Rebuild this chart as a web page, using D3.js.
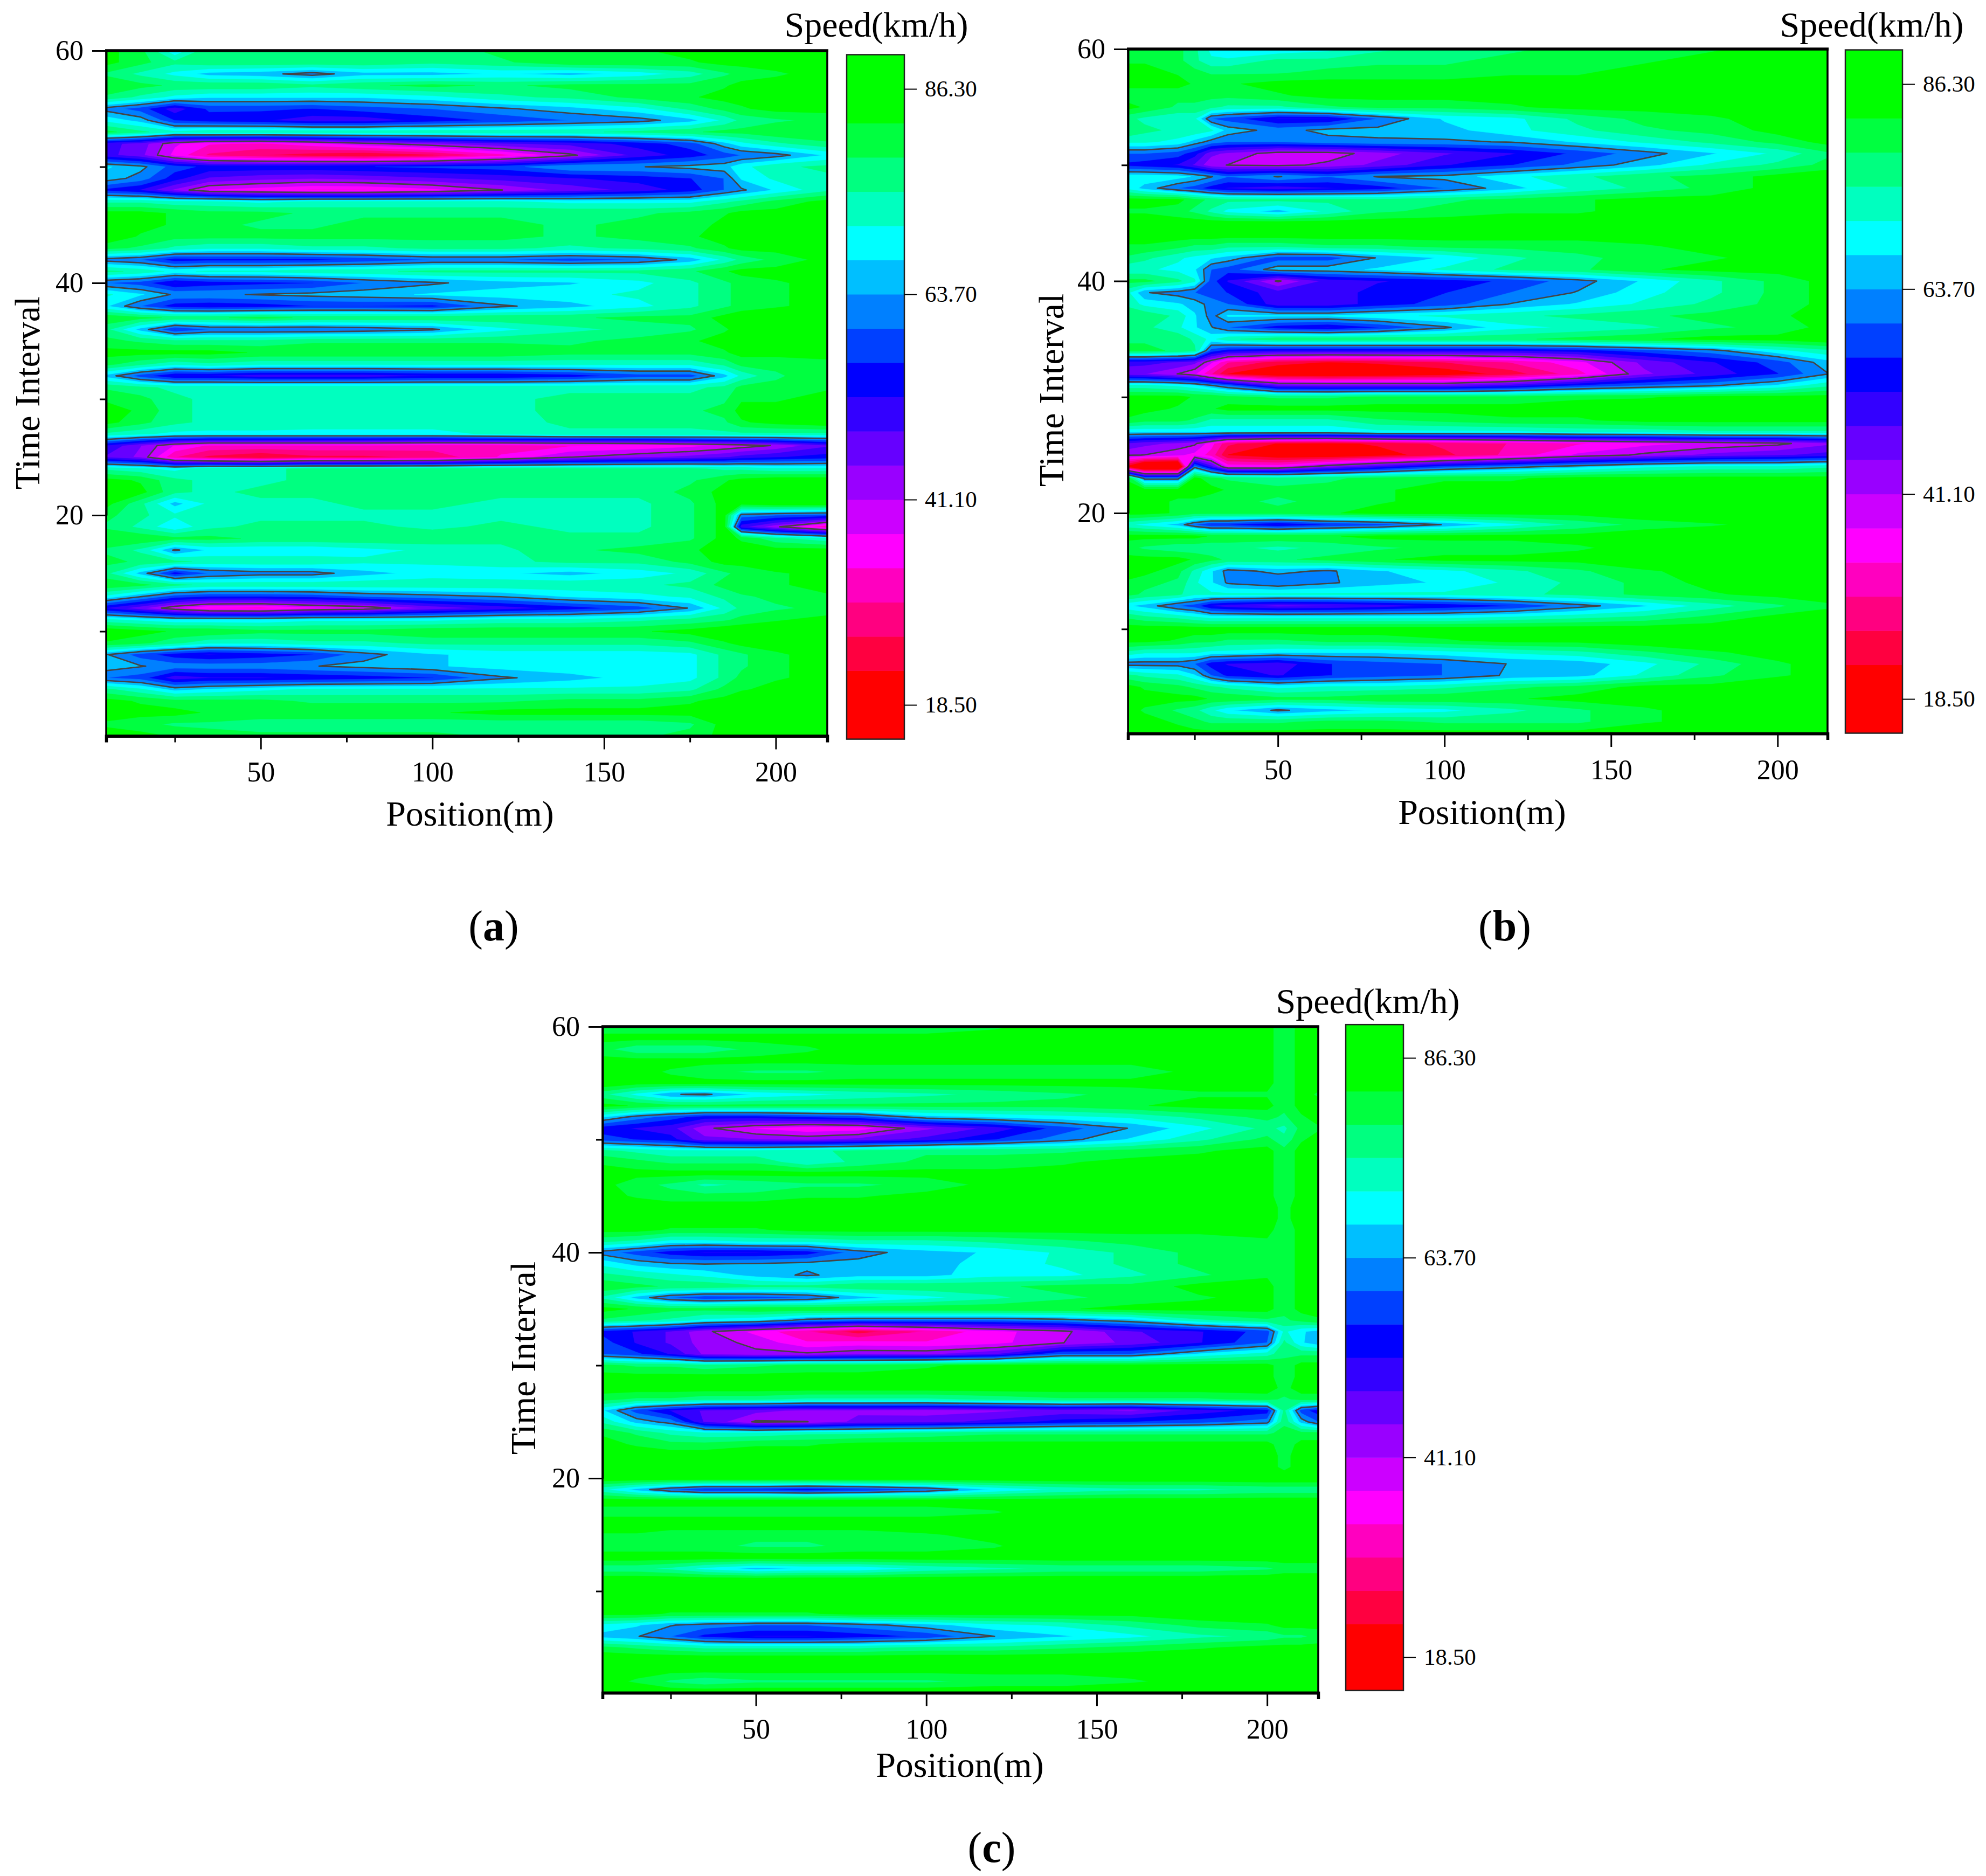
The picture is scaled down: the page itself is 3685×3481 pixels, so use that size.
<!DOCTYPE html>
<html><head><meta charset="utf-8">
<script src="https://cdn.jsdelivr.net/npm/d3@7/dist/d3.min.js"></script>
<style>html,body{margin:0;padding:0;background:#fff}svg{display:block}text{font-family:"Liberation Serif",serif;fill:#000}</style>
</head><body><svg id="c" width="3685" height="3481" xmlns="http://www.w3.org/2000/svg"></svg>
<script>
// Time intervals of each grid row, top row first
const timeRows = [60,59,58,57,56,55,54,53,52,51,50,49,48,47,46,45,44,43,42,41,40,39,38,37,36,35,34,33,32,31,30,29,28,27,26,25,24,23,22,21,20,19,18,17,16,15,14,13,12,11,10,9,8,7,6,5,4,3,2,1];
const positionsA = [5,15,25,35,50,65,80,100,120,140,160,175,185,190,200,215];
const positionsB = [5,10,20,25,30,35,50,65,80,100,120,140,160,180,200,215];
const positionsC = [5,15,25,35,50,65,80,100,120,140,160,180,200,205,210,215];
const speedA = [
[84,80,68,78,78,76,76,76,80,82,82,84,85,85,85,85],
[84,80,76,78,78,78,78,76,78,82,82,82,84,84,84,86],
[78,74,70,66,65,62,66,66,68,66,69,73,78,80,82,84],
[82,80,78,78,78,76,78,80,78,80,80,80,82,84,84,86],
[78,74,70,68,68,68,68,70,74,76,80,82,84,84,86,86],
[62,58,50,57,57,56,58,60,63,66,70,76,80,82,84,84],
[70,66,56,54,53,50,50,54,57,60,62,66,72,76,78,80],
[80,76,72,74,74,74,74,74,74,74,76,78,80,80,82,82],
[50,47,38,34,33,36,40,44,48,50,54,58,66,70,74,78],
[50,46,36,29,26,24,22,25,32,40,50,54,58,60,62,68],
[68,65,58,55,55,55,56,57,58,63.5,63.5,65,66,70,74,76],
[66,62,54,48,46,45,46,48,50,52,54,56,60,68,72,74],
[55,52,44,37,35,33,33,36,41,46,50,54,60,63,68,74],
[74,74,72,72,70,72,72,72,72,70,70,70,74,76,80,84],
[84,84,82,80,80,78,78,78,78,78,78,80,82,84,84,86],
[86,84,82,80,78,78,80,80,80,78,80,80,84,84,86,86],
[86,82,80,80,80,80,80,80,80,78,80,82,84,84,84,86],
[80,78,74,72,72,74,74,76,76,74,76,78,82,84,84,86],
[62,60,54,55,55,55,57,60,60,58,60,65,72,76,80,84],
[76,74,70,72,72,74,74,76,76,76,76,78,82,84,84,86],
[60,58,52,54,55,56,60,63,66,67,70,74,78,80,82,84],
[72,68,63,63,64,65,66,68,69,70,72,74,78,80,82,84],
[68,60,54,53,54,56,56,55,63,66,70,74,78,80,82,84],
[82,80,78,78,80,78,78,78,78,78,80,80,84,86,86,86],
[76,66,56,60,60,60,61,63,70,74,76,78,82,84,84,86],
[80,78,76,76,76,78,78,78,78,78,80,82,84,86,86,86],
[84,84,84,84,82,82,82,82,82,80,80,80,82,84,84,86],
[80,76,72,74,72,72,72,72,72,72,72,72,76,80,80,80],
[66,58,52,52,50,50,50,52,52,54,58,58,66,72,78,82],
[78,76,74,74,74,74,74,74,74,74,74,74,76,80,80,82],
[82,80,76,74,74,74,74,74,74,76,76,76,78,82,82,84],
[84,82,76,74,74,74,74,74,74,76,76,78,80,84,84,86],
[84,80,76,74,74,73,73,73,73,76,76,76,78,82,84,86],
[74,72,70,70,70,70,70,70,72,74,74,74,74,74,74,74],
[52,45,37,33,33,33,33,32,32,33,34,36,38,39,41.5,48],
[48,44,30,25,22,25,25,27,34,41,44,46,48,50,52,54],
[74,72,70,74,74,76,76,76,76,76,76,76,74,74,72,72],
[84,82,76,74,74,76,76,76,76,76,78,78,82,84,86,86],
[86,84,76,74,76,76,78,78,76,76,76,80,84,84,86,86],
[84,76,66,72,74,74,76,76,74,74,74,78,84,84,86,86],
[80,76,72,74,74,74,74,74,74,74,74,78,84,62,60,58],
[78,74,68,74,76,76,76,74,76,74,74,78,84,50,42,30],
[82,82,80,80,78,78,78,78,76,76,76,78,84,82,76,72],
[78,74,63,68,68,68,70,72,74,78,80,82,84,84,84,84],
[80,78,76,74,74,74,72,72,74,76,76,80,84,84,86,86],
[76,66,54,60,62,62,66,69,68,66,69,72,78,80,82,84],
[82,80,76,74,74,74,74,74,74,74,74,76,80,82,82,84],
[70,64,58,56,56,57,60,62,64,68,70,72,76,78,80,82],
[52,46,38,33,32,36,38,46,50,54,58,64,72,76,78,80],
[72,70,68,68,68,70,70,70,72,72,74,76,78,80,82,84],
[86,84,82,82,80,80,80,82,82,82,82,84,86,86,86,86],
[82,80,76,72,72,74,74,76,76,76,76,78,82,84,84,86],
[64,58,54,52,54,56,62,67,69,69,69,70,76,78,82,84],
[66,64,62,62,62,63.5,65,67,69,70,70,70,76,78,82,84],
[60,58,50,52,52,53,54,56,63,66,69,70,76,80,82,84],
[76,72,66,68,70,72,72,72,72,72,72,74,80,82,84,84],
[84,82,80,80,80,78,78,78,78,80,80,82,84,86,86,86],
[84,84,84,82,82,82,82,82,84,84,84,84,86,86,86,86],
[82,80,78,78,76,76,76,76,76,76,76,78,84,86,86,86],
[84,84,82,80,80,80,80,80,78,78,78,80,84,86,86,86]
];
const speedB = [
[80,80,80,76,70,68,68,70,74,76,78,80,82,82,84,86],
[82,82,80,76,72,72,76,76,78,78,80,82,82,84,84,86],
[84,84,82,80,78,78,78,80,80,80,82,82,84,84,86,86],
[84,84,84,82,82,82,84,84,84,84,84,84,84,84,84,86],
[80,80,80,80,80,80,82,84,84,84,84,84,84,84,86,86],
[84,82,78,78,76,74,74,78,80,80,82,84,84,84,84,86],
[76,74,72,72,60,58,52,52,60,68,70,76,80,82,84,86],
[78,76,74,74,72,66,62,65,65,66,70,74,78,80,84,86],
[72,72,70,66,62,60,60,62,63,63,64,68,72,76,80,84],
[60,60,58,54,46,44,39,39,43,48,52,57,62,67,72,78],
[55,54,52,48,42,41,40,42,46,52,56,61,66,72,76,80],
[70,70,69,67,64,60,64,60,64,65,70,74,78,80,84,86],
[70,66,60,58,54,52,50,52,54,60,66,72,76,80,84,86],
[84,84,84,80,78,76,76,76,76,78,80,82,84,84,84,86],
[82,82,80,78,74,70,66,72,78,80,82,82,84,84,84,86],
[85,85,85,85,85,85,85,85,85,85,85,85,85,85,85,85],
[85,85,85,85,85,85,85,85,85,85,85,85,85,85,85,85],
[82,82,80,78,78,76,76,78,78,80,80,80,82,84,86,86],
[78,76,72,70,68,66,58,58,64,68,74,78,80,82,84,86],
[72,72,70,68,60,58,66,66,68,72,76,78,82,84,84,86],
[80,80,76,72,58,52,40.5,50,52,54,57,62,68,74,80,84],
[72,64,62,60,58,56,50,50,54,56,60,64,70,74,80,84],
[74,70,68,66,62,60,50,50,54,58,64,68,72,76,80,84],
[78,78,74,68,62,68,68,68,70,72,74,76,78,80,82,84],
[78,76,72,68,64,60,54,52,56,63,70,72,74,78,80,84],
[78,78,78,74,70,74,78,78,78,78,78,80,82,84,84,86],
[80,80,78,76,58,54,52,52,52,52,52,54,58,62,70,74],
[50,50,48,46,38,30,24,22,23,26,30,36,46,52,58,66],
[46,45,41,38,30,22,17,16,17,19,24,32,44,50,56,63.5],
[72,72,70,68,64,60,47,46,46,46,50,56,60,63,68,74],
[84,84,84,82,82,80,78,78,80,80,80,82,82,84,84,84],
[84,84,82,82,82,84,84,84,84,84,84,84,86,86,86,86],
[82,80,80,78,74,74,74,74,78,80,82,82,84,84,84,84],
[68,68,68,68,68,68,68,68,70,70,70,72,72,74,74,74],
[48,46,44,42,35,27,22,21,23,27,30,33,36,38,40,44],
[41.5,41,38,36,32,22,18,17,20,25,31,38,42,46,48,50],
[20,8,8,62,50,36,36,44,50,58,62,66,70,72,72,74],
[82,62,62,84,80,78,76,78,80,82,82,84,84,84,84,84],
[84,84,84,84,84,82,80,80,82,84,84,84,86,86,86,86],
[84,84,82,82,80,80,78,80,82,84,84,84,86,86,86,86],
[84,84,82,80,80,80,80,82,84,84,84,84,86,86,86,86],
[72,70,66,60,56,56,52,56,58,64,70,76,80,82,84,84],
[84,84,84,84,82,82,82,82,84,84,84,84,86,86,86,86],
[80,78,76,76,76,76,74,76,78,80,80,82,84,86,86,86],
[84,84,84,82,80,78,78,80,82,84,84,84,86,86,86,86],
[84,84,80,74,68,62,65,63,67,70,74,78,82,84,86,86],
[82,80,78,72,68,63,60,63,66,68,72,76,80,84,86,86],
[80,78,76,72,72,72,72,72,72,72,74,76,80,82,84,84],
[68,66,60,58,52,50,47,48,50,53,56,62,67,73,78,82],
[78,76,74,72,70,70,70,70,70,70,72,74,76,80,84,84],
[85,85,85,85,85,85,85,85,85,85,85,85,85,85,85,85],
[84,84,82,80,80,78,78,80,80,82,84,84,86,86,86,86],
[74,72,72,72,70,70,68,68,68,70,72,74,78,82,84,84],
[62,62,62,60,54,52,50,56,58,60,64,65,70,76,82,84],
[76,74,72,68,60,55,52,56,58,60,64.5,66,72,78,82,84],
[84,82,80,78,76,74,70,72,72,74,78,80,84,84,86,86],
[84,84,84,84,82,82,80,80,82,82,82,84,84,86,86,86],
[84,82,78,76,72,68,63,66,68,70,74,78,82,84,84,86],
[84,84,82,80,78,78,78,80,80,78,78,78,82,84,84,86],
[84,84,84,84,84,84,84,84,84,84,84,84,86,86,86,86]
];
const speedC = [
[80,80,80,80,80,80,80,80,82,84,84,84,84,80,84,84],
[84,84,84,84,84,84,84,84,84,84,84,84,84,80,84,84],
[80,76,76,76,80,82,84,84,84,84,84,84,84,80,84,84],
[84,84,84,84,84,84,84,84,84,84,84,84,84,80,84,84],
[84,84,82,80,78,78,80,80,80,80,80,84,84,80,84,84],
[86,84,84,84,84,84,84,84,84,84,84,84,84,80,84,84],
[76,70,64,63,68,70,72,74,76,78,80,82,82,80,84,82],
[84,82,80,80,80,80,80,80,80,80,82,84,84,80,84,84],
[68,62,58,54,54,56,58,66,68,70,72,76,80,78,82,84],
[54,52,50,42,37,34,35,44,50,58,64,70,76,74,80,82],
[58,56,54,46,45,44,46,50,56,62,68,74,80,76,82,84],
[76,74,72,72,72,74,76,78,78,78,80,82,84,80,84,84],
[82,80,78,78,78,72,76,80,80,82,84,84,84,80,84,84],
[84,84,84,84,84,84,84,84,84,84,84,84,84,80,84,84],
[84,80,78,74,76,78,78,80,84,84,84,84,84,80,84,84],
[84,82,80,80,80,82,82,84,84,84,84,84,84,80,84,84],
[85,85,85,85,85,85,85,85,85,85,85,85,85,81,85,85],
[85,85,85,85,85,85,85,85,85,85,85,85,85,81,85,85],
[84,84,82,82,82,84,84,84,84,84,84,84,84,80,84,84],
[76,74,70,70,72,72,74,74,76,78,80,80,82,80,84,84],
[62,58,54,52,52,54,62,66,68,72,76,80,82,80,84,84],
[70,66,64,63.5,64,65,65,66,69,72,76,80,82,80,84,84],
[76,74,72,70,66,63,66,66,70,70,74,78,82,80,84,84],
[82,80,78,78,76,76,78,78,78,80,80,84,84,80,84,84],
[74,66,60,57,58,60,66,70,74,78,80,82,84,80,84,84],
[84,82,80,80,82,82,82,82,82,82,84,84,84,80,84,84],
[78,76,74,70,68,62,60,60,60,62,66,74,78,78,80,82],
[55,52,48,42,36,30,24,30,36,40,48,52,58,72,68,66],
[58,52,48,43,40,34,35,34,36,41,46,52,60,76,68,65],
[60,57,52,44,42,42,44,44,48,60,60,68,73,78,78,78],
[80,78,78,76,78,80,80,82,84,84,84,84,84,80,84,84],
[84,84,84,84,84,84,84,84,84,84,84,84,84,80,84,84],
[85,85,85,85,85,85,85,85,85,85,85,85,85,81,85,85],
[80,78,78,76,76,74,74,74,76,78,78,78,80,78,80,80],
[68,58,52,48,46,44,44,43,44,46,44,50,54,76,58,54],
[74,66,62,48,40.5,41,46,47,50,54,56,58,62,78,66,60],
[82,78,74,72,72,74,74,76,78,78,78,78,78,80,80,80],
[84,82,80,80,82,82,84,84,84,84,84,84,84,80,84,84],
[85,85,85,85,85,85,85,85,85,85,85,85,85,81,85,85],
[85,85,85,85,85,85,85,85,85,85,85,85,85,81,85,85],
[86,86,86,86,86,86,86,86,86,86,86,86,86,86,86,86],
[72,66,60,56,56,54,56,60,68,72,74,74,76,76,76,76],
[85,85,85,85,85,85,85,85,85,85,85,85,85,85,85,85],
[80,80,80,80,80,80,80,80,82,86,86,86,86,86,86,86],
[86,86,86,86,86,86,86,86,86,86,86,86,86,86,86,86],
[82,82,80,80,80,80,80,82,84,86,86,86,86,86,86,86],
[80,80,80,80,78,78,80,80,82,86,86,86,86,86,86,86],
[85,85,85,85,85,85,85,85,85,85,85,85,85,85,85,85],
[76,76,74,70,66,68,68,72,74,76,76,76,78,80,80,80],
[86,86,86,86,86,86,86,86,86,86,86,86,86,86,86,86],
[86,86,86,86,86,86,86,86,86,86,86,86,86,86,86,86],
[86,86,86,86,86,86,86,86,86,86,86,86,86,86,86,86],
[84,84,82,82,82,82,84,84,84,84,84,86,86,86,86,86],
[70,68,64,62,60,60,62,66,70,72,76,80,82,84,84,84],
[66,64,60,55,52,52,54,57,63.7,67,70,74,76,78,78,80],
[80,78,76,74,74,74,74,76,76,78,80,82,84,84,84,84],
[86,86,86,86,86,86,86,86,86,86,86,86,86,86,86,86],
[84,84,84,84,84,84,84,84,84,84,84,84,84,84,84,84],
[84,82,78,76,78,78,78,78,80,80,82,84,86,86,86,86],
[86,86,86,86,86,86,86,86,86,86,86,86,86,86,86,86]
];
const levels = [22.27,26.03,29.8,33.57,37.33,41.1,44.87,48.63,52.4,56.17,59.93,63.7,67.47,71.23,75,78.77,82.53];
const bandColors = ["#ff0000","#ff0040","#ff0080","#ff00bf","#ff00ff","#cc00ff","#9900ff","#6600ff","#3300ff","#0000ff","#0040ff","#0080ff","#00bfff","#00ffff","#00ffbf","#00ff80","#00ff40","#00ff00"];
const lineLevels = [63.7,41.1];
const speedRange = [14.73,90.07];
const barTicks = [18.5,41.1,63.7,86.3];
const xMajor = [50,100,150,200];
const xMinor = [25,75,125,175];
const yMajor = [20,40,60];
const yMinor = [10,30,50];
const xLabel = "Position(m)", yLabel = "Time Interval", barLabel = "Speed(km/h)";

const panels = [
 {id:"a",pos:positionsA,speed:speedA,x0:197,x1:1535,xt:[484,802,1120,1437],y60:94,y20:956,bar:[1571,1678],b86:165,b18:1308,
  barT:[1626,45],xT:[872,1509],yT:[50,729],cap:[916,1718]},
 {id:"b",pos:positionsB,speed:speedB,x0:2093,x1:3391,xt:[2373,2681,2989,3297],y60:91,y20:952,bar:[3424,3530],b86:156,b18:1297,
  barT:[3473,45],xT:[2750,1506],yT:[1950,724],cap:[2792,1718]},
 {id:"c",pos:positionsC,speed:speedC,x0:1118,x1:2446,xt:[1403,1719,2033,2348],y60:1905,y20:2743,bar:[2497,2604],b86:1963,b18:3075,
  barT:[2538,1857],xT:[1781,3274],yT:[970,2520],cap:[1840,3428]}
];
const svg = d3.select("#c");
const defs = svg.append("defs");

panels.forEach(p=>{
  const n = p.pos.length, m = timeRows.length;
  p.speed.forEach((r,i)=>{ if(r.length!==n) throw new Error("panel "+p.id+" row "+i+" len "+r.length); });
  if(p.speed.length!==m) throw new Error("panel "+p.id+" rows "+p.speed.length);
  const x = d3.scaleLinear().domain([5,215]).range([p.x0,p.x1]);
  const y = d3.scaleLinear().domain([20,60]).range([p.y20,p.y60]);
  const xIdx = d3.scaleLinear().domain(d3.range(n)).range(p.pos).clamp(true);
  const yIdx = d3.scaleLinear().domain(d3.range(m)).range(timeRows).clamp(true);
  const proj = d3.geoTransform({point(a,b){ this.stream.point(x(xIdx(a-0.5)), y(yIdx(b-0.5))); }});
  const path = d3.geoPath(proj);
  const contour = d3.contours().size([n,m]);
  const flat = d3.merge(p.speed);
  const g = svg.append("g").attr("id","panel-"+p.id);
  const yb = y(1), yt = y(60);
  defs.append("clipPath").attr("id","clip-"+p.id).append("rect").attr("x",p.x0).attr("y",yt).attr("width",p.x1-p.x0).attr("height",yb-yt);
  const plot = g.append("g").attr("clip-path","url(#clip-"+p.id+")");
  plot.append("rect").attr("x",p.x0).attr("y",yt).attr("width",p.x1-p.x0).attr("height",yb-yt).attr("fill",bandColors[0]);
  plot.selectAll("path.band").data(levels).join("path").attr("class","band")
    .attr("d",t=>path(contour.contour(flat,t)))
    .attr("fill",(t,i)=>bandColors[i+1]).attr("stroke",(t,i)=>bandColors[i+1]).attr("stroke-width",0.6);
  plot.selectAll("path.line").data(lineLevels).join("path").attr("class","line")
    .attr("d",t=>path(contour.contour(flat,t)))
    .attr("fill","none").attr("stroke","#444").attr("stroke-width",2.6).attr("stroke-linejoin","round");

  // axes
  const ax = g.append("g");
  const styleAxis = (s,w)=>{ s.selectAll("path.domain").attr("stroke","#000").attr("stroke-width",w);
    s.selectAll("line").attr("stroke","#000").attr("stroke-width",3);
    s.selectAll("text").style("font-family",'"Liberation Serif",serif').style("font-size","52px").attr("fill","#000"); };
  ax.append("g").attr("transform",`translate(0,${yb})`)
    .call(d3.axisBottom(x).tickValues(xMinor).tickFormat("").tickSize(12).tickSizeOuter(12)).call(styleAxis,5.5);
  ax.append("g").attr("transform",`translate(0,${yb})`)
    .call(d3.axisBottom(x).tickValues(xMajor).tickFormat(d3.format("d")).tickSize(25).tickPadding(23).tickSizeOuter(0)).call(styleAxis,5.5);
  ax.append("g").attr("transform",`translate(${p.x0},0)`)
    .call(d3.axisLeft(y).tickValues(yMinor).tickFormat("").tickSize(12).tickSizeOuter(0)).call(styleAxis,3.5);
  const ya = d3.axisLeft(y).tickValues(yMajor).tickFormat(d3.format("d")).tickSize(26).tickPadding(16).tickSizeOuter(0);
  ax.append("g").attr("transform",`translate(${p.x0},0)`).call(ya).call(styleAxis,3.5);
  // the y scale's domain is [20,60]; extend the axis line to the bottom of the plot
  ax.append("line").attr("x1",p.x0).attr("x2",p.x0).attr("y1",yt).attr("y2",yb).attr("stroke","#000").attr("stroke-width",3.5);
  ax.append("line").attr("x1",p.x1).attr("x2",p.x1).attr("y1",yt).attr("y2",yb).attr("stroke","#000").attr("stroke-width",3.5);
  ax.append("line").attr("x1",p.x0-2).attr("x2",p.x1+2).attr("y1",yt).attr("y2",yt).attr("stroke","#000").attr("stroke-width",5.5);

  // colour bar
  const by = d3.scaleLinear().domain([18.5,86.3]).range([p.b18,p.b86]);
  const edges = [speedRange[0],...levels,speedRange[1]];
  const bar = g.append("g");
  bar.selectAll("rect").data(bandColors).join("rect")
    .attr("x",p.bar[0]).attr("width",p.bar[1]-p.bar[0])
    .attr("y",(c,i)=>by(edges[i+1])).attr("height",(c,i)=>by(edges[i])-by(edges[i+1])+0.5)
    .attr("fill",c=>c);
  bar.append("rect").attr("x",p.bar[0]).attr("y",by(speedRange[1])).attr("width",p.bar[1]-p.bar[0])
    .attr("height",by(speedRange[0])-by(speedRange[1])).attr("fill","none").attr("stroke","#222").attr("stroke-width",2.5);
  const barAxis = g.append("g").attr("transform",`translate(${p.bar[1]},0)`)
    .call(d3.axisRight(by).tickValues(barTicks).tickFormat(d3.format(".2f")).tickSize(23).tickPadding(15).tickSizeOuter(0));
  barAxis.select("path.domain").remove();
  barAxis.selectAll("line").attr("stroke","#000").attr("stroke-width",2);
  barAxis.selectAll("text").style("font-family",'"Liberation Serif",serif').style("font-size","43px").attr("fill","#000");

  // labels
  const lab = (txt,pt,size)=>g.append("text").attr("x",pt[0]).attr("y",pt[1]).attr("text-anchor","middle")
     .attr("dominant-baseline","central").style("font-size",size+"px").text(txt);
  lab(barLabel,p.barT,66);
  lab(xLabel,p.xT,66);
  g.append("text").attr("transform",`translate(${p.yT[0]},${p.yT[1]}) rotate(-90)`).attr("text-anchor","middle")
    .attr("dominant-baseline","central").style("font-size","66px").text(yLabel);
  const cap = g.append("text").attr("x",p.cap[0]).attr("y",p.cap[1]).attr("text-anchor","middle")
    .attr("dominant-baseline","central").style("font-size","80px");
  cap.append("tspan").text("(");
  cap.append("tspan").style("font-weight","bold").text(p.id);
  cap.append("tspan").text(")");
});
</script></body></html>
